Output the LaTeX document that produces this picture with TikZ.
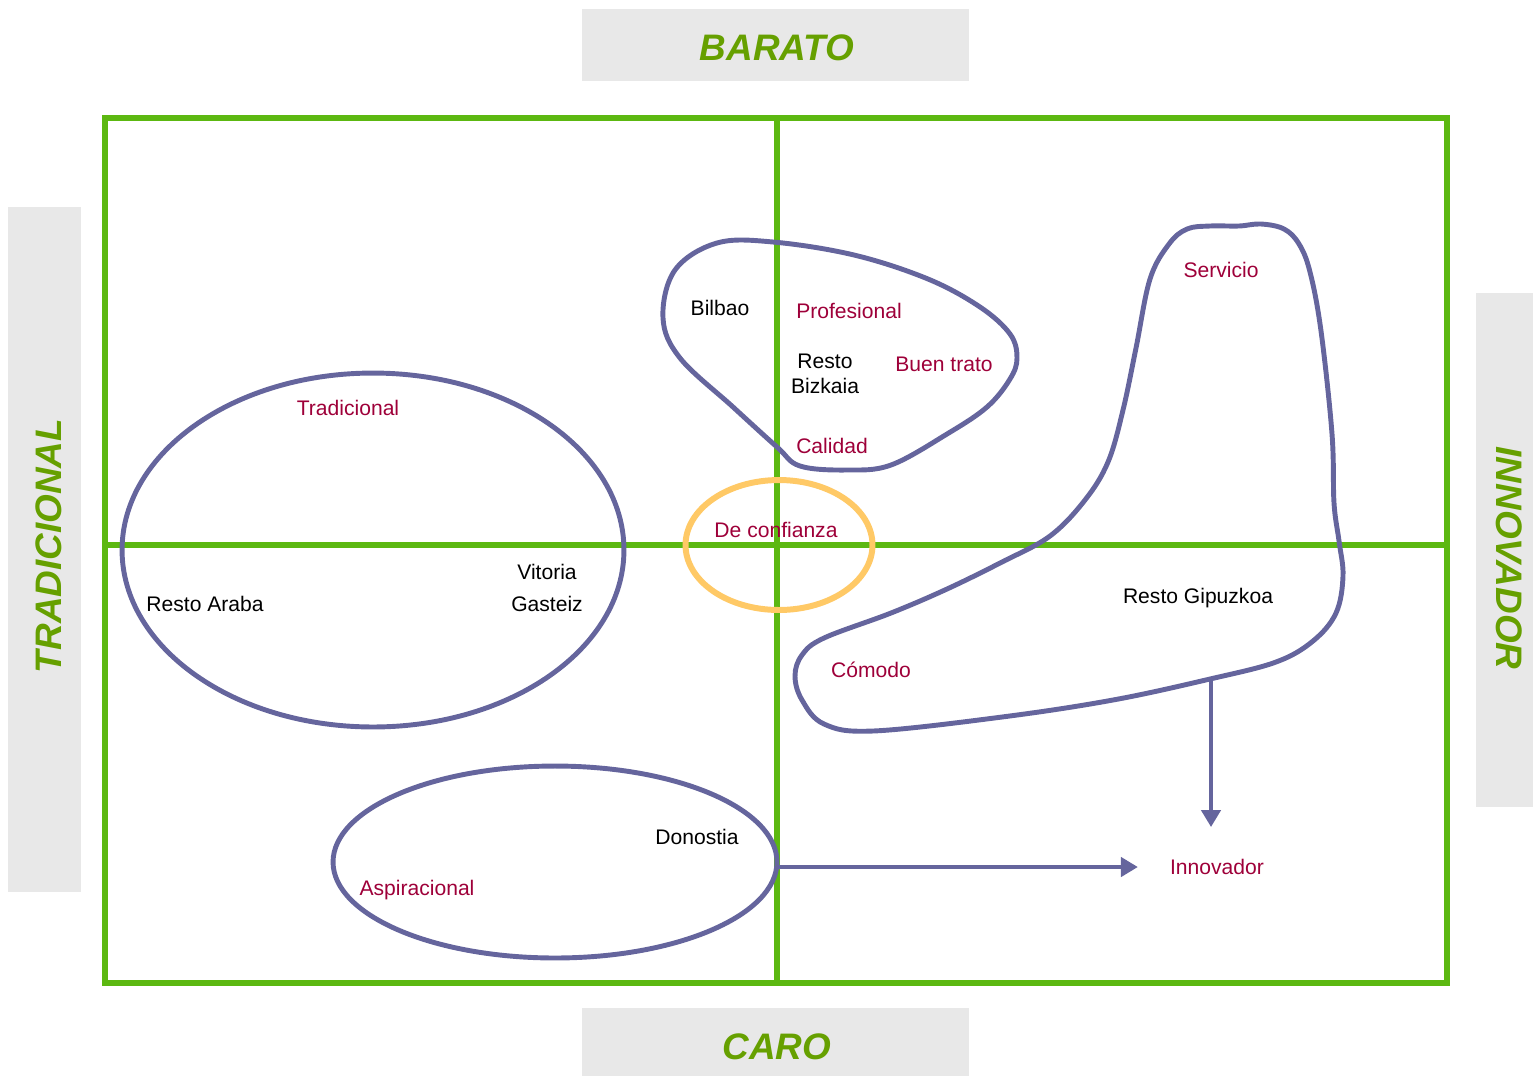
\documentclass[tikz,border=0pt]{standalone}
\usepackage{fontspec}
\setmainfont{Liberation Sans}
\usetikzlibrary{arrows.meta,shapes.geometric}
\definecolor{marco}{HTML}{5CB811}
\definecolor{verdetxt}{HTML}{66A000}
\definecolor{gris}{HTML}{E8E8E8}
\definecolor{lila}{HTML}{65659D}
\definecolor{granate}{HTML}{9E0039}
\definecolor{naranja}{HTML}{FFC966}
\begin{document}
\begin{tikzpicture}[x=0.02cm, y=-0.02cm,
  eje/.style={draw=marco, line width=3.4pt},
  titulo/.style={text=verdetxt, font=\fontsize{21}{25}\selectfont\bfseries\itshape},
  atributo/.style={text=granate, font=\fontsize{12}{14}\selectfont},
  zona/.style={text=black, font=\fontsize{12}{14}\selectfont, align=center},
  grupo/.style={draw=lila, line width=2.8pt},
  flecha/.style={draw=lila, line width=2.6pt, -{Triangle[length=0.34cm,width=0.38cm]}}]
  \useasboundingbox (0,0) rectangle (1533,1076);
  % Ejes: etiquetas de los extremos
  \fill[gris] (582,9) rectangle (969,81);
  \fill[gris] (582,1008) rectangle (969,1076);
  \fill[gris] (8,207) rectangle (81,892);
  \fill[gris] (1476,293) rectangle (1533,807);
  \node[titulo] (barato) at (777,48) {BARATO};
  \node[titulo] (caro) at (777,1047) {CARO};
  \node[titulo, rotate=90] (tradi) at (49,546) {TRADICIONAL};
  \node[titulo, rotate=-90] (innova) at (1509,558) {INNOVADOR};
  % Cuadrantes
  \draw[eje] (105,118) rectangle (1447,983);
  \draw[eje] (777,118) -- (777,983);
  \draw[eje] (105,545) -- (1447,545);
  % Grupos
  \node[grupo, ellipse, minimum width=10.04cm, minimum height=7.08cm] (araba) at (373,550) {};
  \node[grupo, ellipse, minimum width=8.88cm, minimum height=3.84cm] (aspi) at (555,862) {};
  \node[ellipse, draw=naranja, line width=3.4pt, minimum width=3.74cm, minimum height=2.6cm] (confi) at (779,545) {};
  \draw[grupo] plot[smooth cycle, tension=0.6] coordinates {(773,242) (854,255) (928,279) (980,307) (1010,334) (1017,358) (1010,379) (987,407) (947,434) (891,465) (847,470) (800,466) (777,447) (733,407) (680,358) (663,318) (675,270) (717,243)};
  \draw[grupo] plot[smooth cycle, tension=0.6] coordinates {(1210,226) (1239,226) (1261,224) (1284,229) (1299,244) (1310,272) (1321,331) (1332,434) (1334,503) (1339,541) (1343,576) (1336,613) (1313,641) (1276,662) (1210,679) (1113,700) (1002,717) (873,731) (824,724) (802,700) (795,676) (802,655) (824,638) (891,613) (947,589) (1002,562) (1050,536) (1085,500) (1108,462) (1123,410) (1136,348) (1150,279) (1169,244) (1187,229)};
  \coordinate (gipu-sur) at (1211,677);
  % Textos
  \node[atributo] (tradicional) at (348,408) {Tradicional};
  \node[zona] (resto-araba) at (205,604) {Resto Araba};
  \node[zona] (vitoria) at (547,588) {Vitoria\\[4pt]Gasteiz};
  \node[zona] (bilbao) at (720,308) {Bilbao};
  \node[atributo] (profesional) at (849,311) {Profesional};
  \node[zona] (resto-bizkaia) at (825,374) {Resto\\Bizkaia};
  \node[atributo] (buen-trato) at (944,364) {Buen trato};
  \node[atributo] (calidad) at (832,446) {Calidad};
  \node[atributo] (de-confianza) at (776,530) {De confianza};
  \node[atributo] (servicio) at (1221,270) {Servicio};
  \node[zona] (resto-gipuzkoa) at (1198,598) {Resto Gipuzkoa};
  \node[atributo] (comodo) at (871,670) {Cómodo};
  \node[zona] (donostia) at (697,837) {Donostia};
  \node[atributo] (aspiracional) at (417,890) {Aspiracional};
  \node[atributo] (innov) at (1217,867) {Innovador};
  % Flechas hacia innovador
  \draw[flecha, shorten >=0.52cm] (aspi.east |- innov) -- (innov.west);
  \draw[flecha, shorten >=0.52cm] (gipu-sur) -- (gipu-sur |- innov.north);
\end{tikzpicture}
\end{document}
